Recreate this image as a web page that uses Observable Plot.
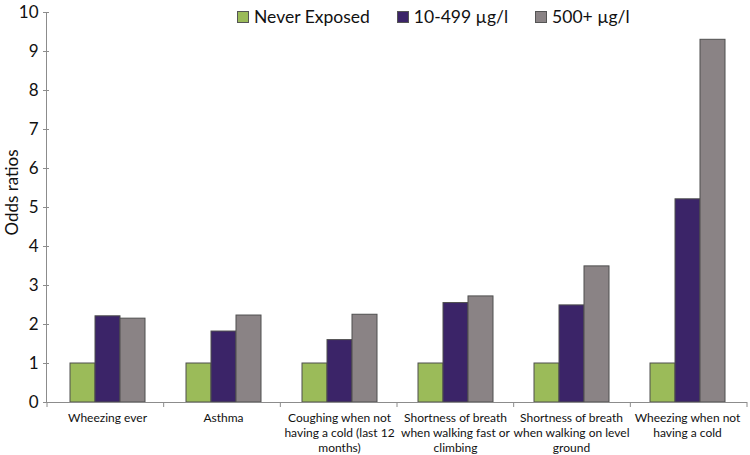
<!DOCTYPE html>
<html>
<head>
<meta charset="utf-8">
<script src="https://cdn.jsdelivr.net/npm/d3@7"></script>
<script src="https://cdn.jsdelivr.net/npm/@observablehq/plot@0.6"></script>
<style>
  body { margin: 0; background: #ffffff; }
  #wrap { position: relative; width: 750px; height: 455px; background: #ffffff; }
  #legend { position: absolute; left: 237px; top: 6px; display: flex; align-items: center;
            font-family: Lato, sans-serif; font-size: 17.5px; color: #111; }
  .item { display: flex; align-items: center; margin-right: 27px; }
  .sw { width: 12px; height: 12px; border: 1px solid #555; margin-right: 5px; box-sizing: border-box; }
</style>
</head>
<body>
<div id="wrap"><div id="chart"></div><div id="legend"></div></div>
<script>
// ---- data ----
const categories = [
  "Wheezing ever",
  "Asthma",
  "Coughing when not having a cold (last 12 months)",
  "Shortness of breath when walking fast or climbing",
  "Shortness of breath when walking on level ground",
  "Wheezing when not having a cold"
];
const categoryLabels = [
  "Wheezing ever",
  "Asthma",
  "Coughing when not\nhaving a cold (last 12\nmonths)",
  "Shortness of breath\nwhen walking fast or\nclimbing",
  "Shortness of breath\nwhen walking on level\nground",
  "Wheezing when not\nhaving a cold"
];
const series = ["Never Exposed", "10-499 \u00b5g/l", "500+ \u00b5g/l"];
const neverExposed = [1, 1, 1, 1, 1, 1];
const exposed10to499 = [2.21, 1.82, 1.60, 2.55, 2.49, 5.21];
const exposed500plus = [2.15, 2.23, 2.25, 2.72, 3.49, 9.30];
const yTicks = [0, 1, 2, 3, 4, 5, 6, 7, 8, 9, 10];
const colors = ["#9BBB59", "#3B2468", "#8A8385"];

const seriesValues = [neverExposed, exposed10to499, exposed500plus];
const data = [];
categories.forEach((c, i) => {
  series.forEach((s, j) => data.push({category: c, series: s, value: seriesValues[j][i]}));
});

const chart = Plot.plot({
  width: 750,
  height: 455,
  marginLeft: 47,
  marginRight: 3,
  marginTop: 12,
  marginBottom: 53,
  style: {background: "transparent", fontFamily: "Lato, sans-serif", color: "#111"},
  fx: {domain: categories, padding: 0, label: null},
  x: {domain: series, paddingInner: 0, paddingOuter: 0.75, axis: null},
  y: {domain: [0, 10], label: null},
  color: {domain: series, range: colors},
  marks: [
    Plot.barY(data, {fx: "category", x: "series", y: "value", fill: "series",
                     stroke: "#4f4f4f", strokeWidth: 1, inset: 0}),
    Plot.axisY({ticks: yTicks, tickSize: 6, tickPadding: 5, fontSize: 17, stroke: "#8c8c8c",
                label: "Odds ratios", labelAnchor: "center", labelArrow: false, labelOffset: 44,
                fontFamily: "Lato, sans-serif"}),
    Plot.axisFx({anchor: "bottom", tickSize: 0, tickPadding: 9.5, fontSize: 12, lineHeight: 1.22,
                 label: null, fontFamily: "Lato, sans-serif",
                 tickFormat: d => categoryLabels[categories.indexOf(d)]})
  ]
});
document.getElementById("chart").appendChild(chart);

// axis lines and category boundary ticks from the library's scales
const fxD = chart.scale("fx"), yD = chart.scale("y");
const fxS = d3.scaleBand(fxD.domain, fxD.range).paddingInner(fxD.paddingInner || 0).paddingOuter(fxD.paddingOuter || 0);
const yS = d3.scaleLinear(yD.domain, yD.range);
const svg = d3.select(chart.tagName.toLowerCase() === "svg" ? chart : chart.querySelector("svg"));
const g = svg.append("g").attr("stroke", "#8c8c8c").attr("stroke-width", 1);
const x0 = fxD.range[0], x1 = fxD.range[1], y0 = yS(0);
g.append("line").attr("x1", x0 - 4).attr("x2", x1).attr("y1", y0 + 0.5).attr("y2", y0 + 0.5);
g.append("line").attr("x1", x0 - 0.5).attr("x2", x0 - 0.5).attr("y1", yS(10)).attr("y2", y0);
[...categories.map(c => fxS(c)), x1].forEach(x => {
  g.append("line").attr("x1", x).attr("x2", x).attr("y1", y0).attr("y2", y0 + 5);
});
// nudge the y-axis title up to where the reference has it
svg.selectAll('[aria-label="y-axis label"]').attr("transform", function() {
  return "translate(0,-15) " + (this.getAttribute("transform") || "");
});

// legend
const legend = d3.select("#legend");
series.forEach((s, j) => {
  const it = legend.append("div").attr("class", "item");
  it.append("div").attr("class", "sw").style("background", colors[j]);
  it.append("span").text(s);
});
</script>
</body>
</html>
